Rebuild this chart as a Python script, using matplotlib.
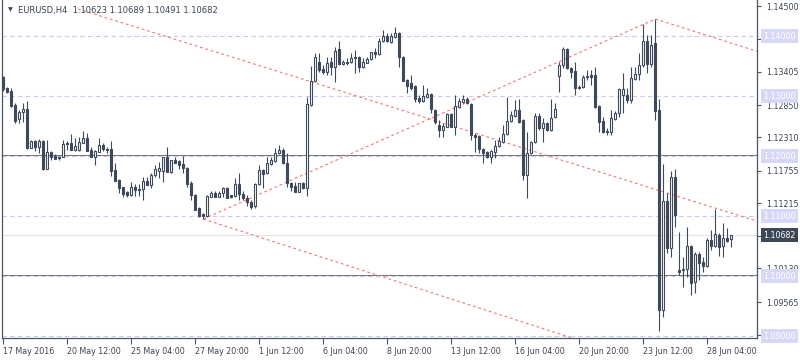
import numpy as np
import matplotlib
matplotlib.use("Agg")
import matplotlib.pyplot as plt
import matplotlib.transforms as mtransforms

# EURUSD H4 candles, 17 May 20:00 .. 29 Jun 04:00 2016
opens = [1.13317, 1.13133, 1.13083, 1.12850, 1.12617, 1.12733, 1.12783, 1.12133, 1.12250, 1.12150,
         1.12250, 1.11783, 1.12067, 1.12000, 1.11983, 1.11983, 1.12217, 1.12217, 1.12100, 1.12100,
         1.12217, 1.12300, 1.12100, 1.11983, 1.12067, 1.12183, 1.12117, 1.12117, 1.11767, 1.11600,
         1.11483, 1.11400, 1.11350, 1.11483, 1.11450, 1.11450, 1.11583, 1.11517, 1.11683, 1.11750,
         1.11750, 1.11983, 1.11733, 1.11933, 1.11917, 1.11867, 1.11800, 1.11550, 1.11350, 1.11133,
         1.11033, 1.11000, 1.11317, 1.11383, 1.11317, 1.11383, 1.11467, 1.11350, 1.11333, 1.11533,
         1.11367, 1.11300, 1.11233, 1.11167, 1.11533, 1.11767, 1.11717, 1.11867, 1.11917, 1.12050,
         1.12100, 1.11883, 1.11550, 1.11500, 1.11400, 1.11550, 1.11467, 1.12850, 1.13250, 1.13567,
         1.13450, 1.13400, 1.13567, 1.13483, 1.13783, 1.13533, 1.13567, 1.13567, 1.13650, 1.13650,
         1.13483, 1.13550, 1.13617, 1.13733, 1.13700, 1.13917, 1.14000, 1.13900, 1.13983, 1.14050,
         1.13650, 1.13267, 1.13217, 1.13167, 1.12967, 1.12917, 1.12983, 1.13033, 1.12767, 1.12517,
         1.12433, 1.12483, 1.12700, 1.12483, 1.12817, 1.12900, 1.12950, 1.12867, 1.12350, 1.12333,
         1.12117, 1.12067, 1.11983, 1.12067, 1.12167, 1.12233, 1.12367, 1.12583, 1.12667, 1.12767,
         1.12600, 1.11683, 1.12050, 1.12233, 1.12667, 1.12467, 1.12550, 1.12433, 1.12650, 1.13333,
         1.13517, 1.13783, 1.13467, 1.13417, 1.13150, 1.13150, 1.13317, 1.13350, 1.13350, 1.12833,
         1.12583, 1.12417, 1.12400, 1.12617, 1.12717, 1.13017, 1.13017, 1.12933, 1.13283, 1.13367,
         1.13517, 1.13917, 1.13533, 1.13883, 1.12767, 1.09433, 1.11250, 1.10467, 1.11650, 1.10100,
         1.10100, 1.10117, 1.10500, 1.09900, 1.10367, 1.10233, 1.10167, 1.10600, 1.10500, 1.10683,
         1.10500, 1.10633, 1.10623]
highs = [1.13333, 1.13150, 1.13133, 1.12883, 1.12767, 1.12883, 1.12917, 1.12267, 1.12267, 1.12283,
         1.12267, 1.12267, 1.12083, 1.12033, 1.12000, 1.12267, 1.12250, 1.12367, 1.12300, 1.12317,
         1.12417, 1.12383, 1.12150, 1.12100, 1.12300, 1.12217, 1.12150, 1.12250, 1.11883, 1.11617,
         1.11483, 1.11417, 1.11567, 1.11533, 1.11533, 1.11650, 1.11650, 1.11717, 1.11850, 1.11900,
         1.11983, 1.12150, 1.11933, 1.11983, 1.11933, 1.12000, 1.11817, 1.11583, 1.11367, 1.11150,
         1.11050, 1.11350, 1.11417, 1.11417, 1.11417, 1.11483, 1.11483, 1.11350, 1.11633, 1.11717,
         1.11417, 1.11350, 1.11267, 1.11550, 1.11850, 1.11783, 1.11983, 1.11983, 1.12133, 1.12183,
         1.12133, 1.12050, 1.11567, 1.11567, 1.11550, 1.11567, 1.12983, 1.13500, 1.13717, 1.13717,
         1.13517, 1.13650, 1.13650, 1.13817, 1.13917, 1.13600, 1.13633, 1.13717, 1.13767, 1.13667,
         1.13633, 1.13650, 1.13733, 1.13800, 1.13967, 1.14100, 1.14050, 1.14050, 1.14150, 1.14067,
         1.13667, 1.13283, 1.13350, 1.13183, 1.13017, 1.13183, 1.13133, 1.13050, 1.12783, 1.12600,
         1.12550, 1.12717, 1.12717, 1.13017, 1.12967, 1.13017, 1.12983, 1.12883, 1.12383, 1.12350,
         1.12133, 1.12083, 1.12100, 1.12267, 1.12317, 1.12517, 1.12983, 1.12750, 1.12933, 1.12950,
         1.12617, 1.12400, 1.12250, 1.12717, 1.12717, 1.12633, 1.12567, 1.12950, 1.12883, 1.13567,
         1.13817, 1.13800, 1.13483, 1.13567, 1.13183, 1.13350, 1.13433, 1.13433, 1.13483, 1.12850,
         1.12650, 1.12467, 1.12767, 1.12750, 1.13133, 1.13383, 1.13133, 1.13483, 1.13483, 1.13717,
         1.14200, 1.14017, 1.14017, 1.14283, 1.12950, 1.11867, 1.11383, 1.11750, 1.11783, 1.10733,
         1.10317, 1.10817, 1.10517, 1.10400, 1.10400, 1.10317, 1.10633, 1.10767, 1.11117, 1.10717,
         1.10883, 1.10800, 1.10689]
lows = [1.13083, 1.13050, 1.12817, 1.12550, 1.12550, 1.12567, 1.12117, 1.12133, 1.12083, 1.12050,
        1.11767, 1.11783, 1.11933, 1.11950, 1.11933, 1.11983, 1.12100, 1.12100, 1.12083, 1.12083,
        1.12217, 1.12083, 1.11983, 1.11850, 1.12067, 1.12083, 1.12050, 1.11667, 1.11583, 1.11383,
        1.11317, 1.11317, 1.11333, 1.11333, 1.11333, 1.11267, 1.11517, 1.11467, 1.11650, 1.11633,
        1.11567, 1.11733, 1.11717, 1.11883, 1.11783, 1.11717, 1.11483, 1.11267, 1.11100, 1.10983,
        1.10950, 1.10983, 1.11317, 1.11317, 1.11317, 1.11317, 1.11300, 1.11300, 1.11317, 1.11267,
        1.11267, 1.11167, 1.11117, 1.11133, 1.11517, 1.11467, 1.11700, 1.11850, 1.11900, 1.12033,
        1.11867, 1.11483, 1.11417, 1.11400, 1.11400, 1.11450, 1.11333, 1.12833, 1.13233, 1.13400,
        1.13367, 1.13350, 1.13350, 1.13233, 1.13517, 1.13517, 1.13517, 1.13550, 1.13383, 1.13400,
        1.13467, 1.13550, 1.13600, 1.13633, 1.13683, 1.13900, 1.13900, 1.13883, 1.13967, 1.13483,
        1.13250, 1.13050, 1.13100, 1.12900, 1.12883, 1.12900, 1.12967, 1.12717, 1.12533, 1.12317,
        1.12317, 1.12483, 1.12483, 1.12350, 1.12800, 1.12883, 1.12867, 1.12267, 1.12067, 1.12050,
        1.11883, 1.11967, 1.11883, 1.11967, 1.12150, 1.12217, 1.12350, 1.12567, 1.12650, 1.12550,
        1.11600, 1.11300, 1.12033, 1.12217, 1.12433, 1.12233, 1.12417, 1.12417, 1.12633, 1.13067,
        1.13467, 1.13450, 1.13300, 1.13017, 1.13117, 1.13133, 1.13267, 1.13183, 1.12800, 1.12400,
        1.12383, 1.12350, 1.12350, 1.12600, 1.12650, 1.12717, 1.12883, 1.12883, 1.13267, 1.13267,
        1.13483, 1.13383, 1.13483, 1.12600, 1.09083, 1.09317, 1.10383, 1.10317, 1.10817, 1.10017,
        1.09817, 1.09983, 1.09683, 1.09717, 1.09933, 1.10067, 1.10150, 1.10433, 1.10483, 1.10333,
        1.10317, 1.10567, 1.10491]
closes = [1.13117, 1.13067, 1.12833, 1.12583, 1.12733, 1.12783, 1.12133, 1.12250, 1.12150, 1.12250,
          1.11783, 1.12067, 1.11983, 1.11950, 1.11967, 1.12200, 1.12200, 1.12100, 1.12167, 1.12233,
          1.12300, 1.12083, 1.11983, 1.12083, 1.12183, 1.12117, 1.12100, 1.11750, 1.11583, 1.11467,
          1.11367, 1.11350, 1.11483, 1.11433, 1.11433, 1.11583, 1.11517, 1.11683, 1.11783, 1.11800,
          1.11983, 1.11733, 1.11933, 1.11883, 1.11850, 1.11800, 1.11533, 1.11350, 1.11100, 1.11000,
          1.11000, 1.11333, 1.11383, 1.11317, 1.11383, 1.11467, 1.11300, 1.11317, 1.11533, 1.11367,
          1.11300, 1.11233, 1.11150, 1.11533, 1.11767, 1.11700, 1.11883, 1.11933, 1.12050, 1.12100,
          1.11883, 1.11550, 1.11483, 1.11400, 1.11550, 1.11467, 1.12867, 1.13250, 1.13650, 1.13433,
          1.13400, 1.13550, 1.13483, 1.13750, 1.13533, 1.13567, 1.13550, 1.13633, 1.13633, 1.13483,
          1.13567, 1.13617, 1.13733, 1.13700, 1.13917, 1.14000, 1.13917, 1.14000, 1.14050, 1.13650,
          1.13250, 1.13167, 1.13133, 1.12950, 1.12917, 1.13000, 1.13033, 1.12783, 1.12567, 1.12433,
          1.12500, 1.12700, 1.12483, 1.12833, 1.12917, 1.12950, 1.12883, 1.12350, 1.12317, 1.12117,
          1.12050, 1.11983, 1.12083, 1.12167, 1.12250, 1.12367, 1.12583, 1.12683, 1.12767, 1.12567,
          1.11683, 1.12050, 1.12233, 1.12667, 1.12467, 1.12550, 1.12433, 1.12633, 1.12783, 1.13517,
          1.13783, 1.13467, 1.13400, 1.13133, 1.13133, 1.13317, 1.13333, 1.13317, 1.12817, 1.12567,
          1.12400, 1.12400, 1.12633, 1.12717, 1.13117, 1.13117, 1.12933, 1.13300, 1.13367, 1.13517,
          1.13917, 1.13533, 1.13850, 1.12750, 1.09433, 1.11250, 1.10467, 1.11650, 1.11017, 1.10067,
          1.10117, 1.10500, 1.09883, 1.10367, 1.10217, 1.10167, 1.10600, 1.10500, 1.10700, 1.10483,
          1.10633, 1.10583, 1.10682]

tick_bars = [0, 16, 32, 48, 64, 80, 96, 112, 128, 144, 160, 176]
tick_dates = ["17 May 2016", "20 May 12:00", "25 May 04:00", "27 May 20:00", "1 Jun 12:00",
              "6 Jun 04:00", "8 Jun 20:00", "13 Jun 12:00", "16 Jun 04:00", "20 Jun 20:00",
              "23 Jun 12:00", "28 Jun 04:00"]
price_ticks = [1.14500, 1.13945, 1.13405, 1.12850, 1.12310, 1.11755, 1.11215, 1.10670,
               1.10130, 1.09565, 1.09025]
grid_levels = [1.14, 1.13, 1.12, 1.11, 1.10, 1.09]
hlines_solid = [1.12015, 1.10015]
last_price = 1.10682

# trend lines: (bar, price) anchor pairs; rays extend to the right edge
ray_lines = [((18.7, 1.14450), (186.7, 1.10950)),
             ((50, 1.10950), (143, 1.08950)),
             ((163, 1.14283), (187.4, 1.13767))]
seg_lines = [((50, 1.10950), (163, 1.14283))]

dark = "#3e4a5c"
txt = "#3a4452"
lav = "#c9c9f1"
red = "#ee7777"
fs = 5.7

o = np.array(opens)
h = np.array(highs)
l = np.array(lows)
c = np.array(closes)
idx = np.arange(len(o))
up = c >= o

fig = plt.figure(figsize=(8, 3.6), dpi=100)
ax = fig.add_axes([2 / 800, 22 / 360, 755 / 800, 338 / 360])
x_max = 188.4
ax.set_xlim(-0.33, x_max)
ax.set_ylim(1.08967, 1.146)

for lv in grid_levels:
    ax.axhline(lv, color=lav, lw=0.8, dashes=(4, 3), zorder=1)
for lv in hlines_solid:
    ax.axhline(lv, color="#787878", lw=0.75, zorder=1.5)
ax.axhline(last_price, color="#e4e4e4", lw=0.75, zorder=1)

for (x0, p0), (x1, p1) in ray_lines:
    k = (p1 - p0) / (x1 - x0)
    ax.plot([x0, x_max], [p0, p0 + k * (x_max - x0)], color=red, lw=0.8,
            dashes=(2.5, 2.5), zorder=2)
for (x0, p0), (x1, p1) in seg_lines:
    ax.plot([x0, x1], [p0, p1], color=red, lw=0.8, dashes=(2.5, 2.5), zorder=2)

ax.vlines(idx, l, h, color=dark, lw=0.8, zorder=3)
ax.bar(idx[up], (c - o)[up], bottom=o[up], width=0.5, facecolor="white",
       edgecolor=dark, lw=0.8, zorder=4)
ax.bar(idx[~up], (o - c)[~up], bottom=c[~up], width=0.5, facecolor=dark,
       edgecolor=dark, lw=0.8, zorder=4)

for s in ["left", "right", "bottom"]:
    ax.spines[s].set_color("#4a5566")
    ax.spines[s].set_linewidth(0.9)
ax.spines["top"].set_visible(False)

ax.yaxis.tick_right()
ax.set_yticks(price_ticks)
ax.set_yticklabels([f"{p:.5f}" for p in price_ticks])
ax.tick_params(axis="y", length=3, width=0.8, color="#4a5566", pad=3.5,
               labelsize=fs, labelcolor=txt)
ax.set_xticks(tick_bars)
ax.set_xticklabels(tick_dates)
ax.tick_params(axis="x", length=4, width=0.8, color="#4a5566", pad=2.5,
               labelsize=fs, labelcolor=txt)
for lab in ax.get_xticklabels():
    lab.set_horizontalalignment("left")

tr = mtransforms.blended_transform_factory(ax.transAxes, ax.transData)
for lv in grid_levels:
    ax.text(1.0085, lv, f"{lv:.5f}", transform=tr, ha="left", va="center",
            fontsize=fs, color="white", clip_on=False, zorder=6,
            bbox=dict(boxstyle="square,pad=0.3", fc="#d7d7f7", ec="none"))
ax.text(1.0085, last_price, f"{last_price:.5f}", transform=tr, ha="left",
        va="center", fontsize=fs, color="white", clip_on=False, zorder=7,
        bbox=dict(boxstyle="square,pad=0.3", fc="#3c4858", ec="none"))

fig.text(8 / 800, 1 - 10 / 360, "\u25bc", fontsize=4.5, color=txt, ha="left", va="center")
fig.text(18 / 800, 1 - 10 / 360,
         "EURUSD,H4  1.10623 1.10689 1.10491 1.10682",
         fontsize=6.0, color=txt, ha="left", va="center")

fig.savefig("out.png", dpi=100)
